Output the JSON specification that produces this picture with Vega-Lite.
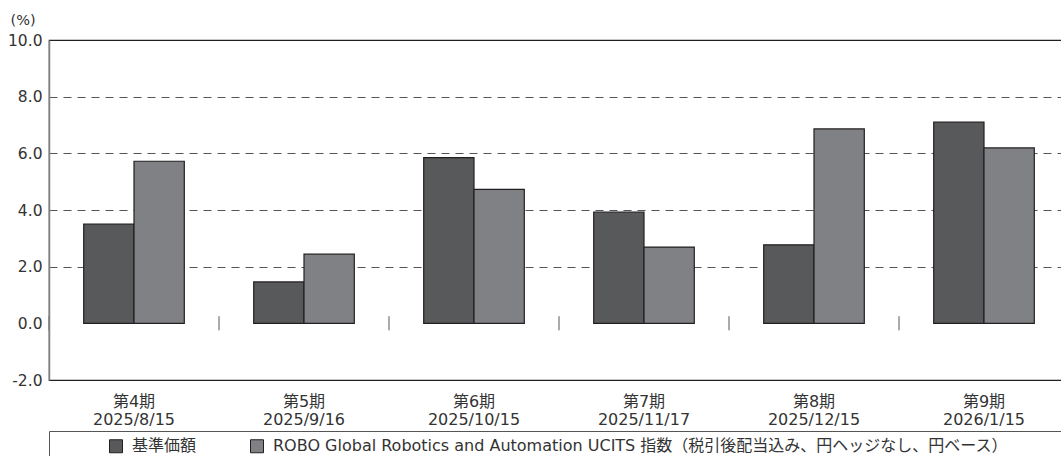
{
  "$schema": "https://vega.github.io/schema/vega-lite/v6.json",
  "width": 1020,
  "height": 340,
  "autosize": {"type": "none"},
  "padding": {"left": 49, "top": 40, "right": 0, "bottom": 76},
  "config": {
    "font": "DejaVu Sans, Noto Sans CJK JP",
    "view": {"stroke": "#231f20", "strokeWidth": 1.2},
    "background": "white"
  },
  "data": {
    "values": [
      {"period": "第4期\n2025/8/15", "series": "基準価額", "value": 3.5},
      {"period": "第4期\n2025/8/15", "series": "ROBO Global Robotics and Automation UCITS 指数（税引後配当込み、円ヘッジなし、円ベース）", "value": 5.72},
      {"period": "第5期\n2025/9/16", "series": "基準価額", "value": 1.46},
      {"period": "第5期\n2025/9/16", "series": "ROBO Global Robotics and Automation UCITS 指数（税引後配当込み、円ヘッジなし、円ベース）", "value": 2.44},
      {"period": "第6期\n2025/10/15", "series": "基準価額", "value": 5.85},
      {"period": "第6期\n2025/10/15", "series": "ROBO Global Robotics and Automation UCITS 指数（税引後配当込み、円ヘッジなし、円ベース）", "value": 4.73},
      {"period": "第7期\n2025/11/17", "series": "基準価額", "value": 3.93},
      {"period": "第7期\n2025/11/17", "series": "ROBO Global Robotics and Automation UCITS 指数（税引後配当込み、円ヘッジなし、円ベース）", "value": 2.69},
      {"period": "第8期\n2025/12/15", "series": "基準価額", "value": 2.77},
      {"period": "第8期\n2025/12/15", "series": "ROBO Global Robotics and Automation UCITS 指数（税引後配当込み、円ヘッジなし、円ベース）", "value": 6.86},
      {"period": "第9期\n2026/1/15", "series": "基準価額", "value": 7.1},
      {"period": "第9期\n2026/1/15", "series": "ROBO Global Robotics and Automation UCITS 指数（税引後配当込み、円ヘッジなし、円ベース）", "value": 6.19}
    ]
  },
  "encoding": {
    "x": {
      "field": "period",
      "type": "nominal",
      "sort": null,
      "scale": {"paddingInner": 0, "paddingOuter": 0},
      "axis": {
        "title": null,
        "domain": false,
        "ticks": false,
        "labelAngle": 0,
        "labelExpr": "split(datum.label, '\\n')",
        "labelFontSize": 16,
        "labelLineHeight": 18,
        "labelColor": "#333333",
        "labelPadding": 13,
        "labelBaseline": "top"
      }
    }
  },
  "layer": [
    {
      "mark": {"type": "bar", "stroke": "#231f20", "strokeWidth": 1.2},
      "encoding": {
        "xOffset": {
          "field": "series",
          "type": "nominal",
          "sort": null,
          "scale": {"paddingInner": 0, "paddingOuter": 0.69}
        },
        "y": {
          "field": "value",
          "type": "quantitative",
          "scale": {"domain": [-2, 10], "nice": false, "zero": false},
          "axis": {
            "values": [-2, 0, 2, 4, 6, 8, 10],
            "labelExpr": "datum.value < 0 ? '-' + format(-datum.value, '.1f') : format(datum.value, '.1f')",
            "title": "(%)",
            "titleAngle": 0,
            "titleAlign": "left",
            "titleBaseline": "middle",
            "titleX": -39,
            "titleY": -20,
            "titleFontSize": 14.5,
            "titleFontWeight": "normal",
            "titleColor": "#333333",
            "labelFontSize": 15.5,
            "labelColor": "#333333",
            "labelPadding": 7,
            "ticks": false,
            "domainColor": "#808080",
            "domainWidth": 1.5,
            "grid": true,
            "gridColor": "#555555",
            "gridDash": [8, 6],
            "gridWidth": 1.2,
            "gridOpacity": {"condition": {"test": "datum.value == 0 || datum.value == -2 || datum.value == 10", "value": 0}, "value": 1}
          }
        },
        "color": {
          "field": "series",
          "type": "nominal",
          "sort": null,
          "scale": {"range": ["#58595b", "#808184"]},
          "legend": {
            "title": "\u3000",
            "titleOrient": "right",
            "titlePadding": 80,
            "orient": "none",
            "legendX": 0,
            "legendY": 391,
            "direction": "horizontal",
            "padding": 7,
            "strokeColor": "#555555",
            "symbolType": "square",
            "symbolSize": 169,
            "symbolStrokeColor": "#231f20",
            "symbolStrokeWidth": 1,
            "symbolOpacity": 1,
            "symbolOffset": 52,
            "labelFontSize": 16,
            "labelColor": "#333333",
            "labelOffset": 8,
            "labelLimit": 1000,
            "columnPadding": 0
          }
        }
      }
    },
    {
      "mark": {"type": "rule", "color": "#808080", "strokeWidth": 1.5},
      "encoding": {"y": {"datum": 0}}
    },
    {
      "mark": {"type": "tick", "color": "#808080", "thickness": 1.2, "size": 14, "orient": "vertical"},
      "encoding": {
        "x": {"field": "period", "type": "nominal", "sort": null, "bandPosition": 0},
        "y": {"datum": 0}
      }
    }
  ]
}
